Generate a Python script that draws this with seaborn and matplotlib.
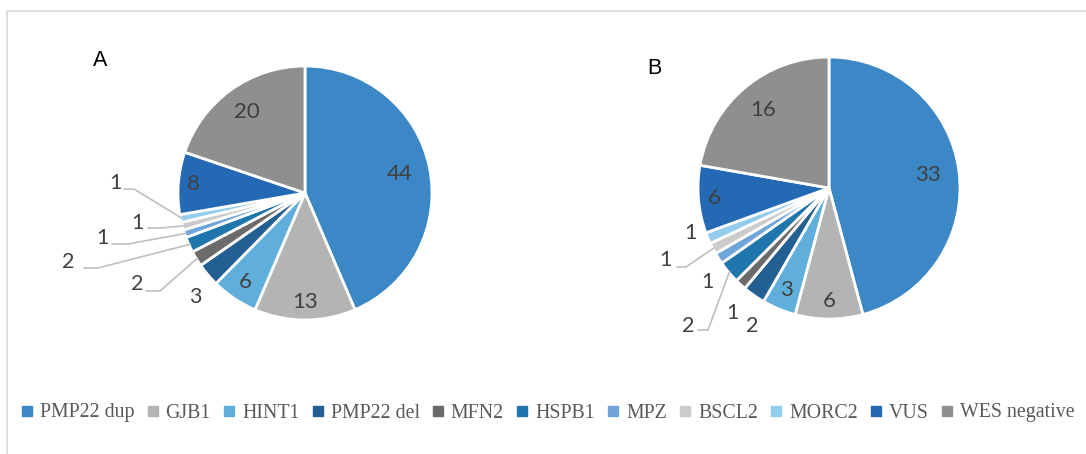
import matplotlib.pyplot as plt
import seaborn as sns
from matplotlib.lines import Line2D
import numpy as np

# categories et valeurs
genes = ['PMP22 dup', 'GJB1', 'HINT1', 'PMP22 del', 'MFN2', 'HSPB1',
         'MPZ', 'BSCL2', 'MORC2', 'VUS', 'WES negative']
valeurs_A = [44, 13, 6, 3, 2, 2, 1, 1, 1, 8, 20]
valeurs_B = [33, 6, 3, 2, 1, 2, 1, 1, 1, 6, 16]
couleurs = ['#3c87c6', '#b4b4b4', '#60aedc', '#245f93', '#6b6b6b', '#1f76ad',
            '#6fa5d9', '#cbcbcb', '#93cdee', '#2369b3', '#8f8f8f']

sns.set_style("white")
plt.rcParams['font.family'] = ['Lato', 'DejaVu Sans']

W, H = 1086, 454
fig = plt.figure(figsize=(W / 100, H / 100), dpi=100)
ax = fig.add_axes([0, 0, 1, 1])

def py(y):
    # coordonnees pixel (haut->bas) vers coordonnees axe
    return H - y

gris_txt = '#404040'

def dessiner_camembert(valeurs, centre, rayon, internes, externes):
    wedges, _ = ax.pie(valeurs, colors=couleurs, startangle=90, counterclock=False,
                       center=centre, radius=rayon,
                       wedgeprops=dict(edgecolor='white', linewidth=2))
    for i, w in enumerate(wedges):
        ang = np.deg2rad((w.theta1 + w.theta2) / 2)
        if i in internes:
            d = internes[i] * rayon
            ax.text(centre[0] + d * np.cos(ang), centre[1] + d * np.sin(ang),
                    str(valeurs[i]), ha='center', va='center', fontsize=16, color=gris_txt)
        elif i in externes:
            lx, ly, coude = externes[i]
            ax.text(lx, py(ly), str(valeurs[i]), ha='center', va='center',
                    fontsize=15.5, color=gris_txt)
            if coude is not None:
                bx = centre[0] + rayon * 0.99 * np.cos(ang)
                by = centre[1] + rayon * 0.99 * np.sin(ang)
                x0, x1, yl = coude
                ax.plot([x0, x1, bx], [py(yl), py(yl), by], color='#bfbfbf', lw=1.2)

# camembert A
dessiner_camembert(valeurs_A, (305, py(193)), 127,
                   {0: 0.76, 1: 0.86, 2: 0.84, 9: 0.88, 10: 0.78},
                   {3: (195, 297, None),
                    4: (137, 284, (146, 160, 291)),
                    5: (68, 262, (84, 98, 268)),
                    6: (102, 238, (112, 128, 244)),
                    7: (137, 223, (148, 160, 228)),
                    8: (115, 183, (124, 134, 189))})

# camembert B
dessiner_camembert(valeurs_B, (829, py(188)), 131,
                   {0: 0.76, 1: 0.86, 2: 0.84, 9: 0.88, 10: 0.78},
                   {3: (752, 326, None),
                    4: (732, 313, None),
                    5: (688, 326, (698, 708, 330)),
                    6: (707, 282, None),
                    7: (665, 260, (677, 686, 267)),
                    8: (690, 233, None)})

# pie() change les limites : on les remet apres
ax.set_xlim(0, W)
ax.set_ylim(0, H)
ax.set_aspect('equal')
ax.axis('off')

# cadre gris clair
ax.plot([7, 7, W], [0, py(11), py(11)], color='#d9d9d9', lw=1.2)

ax.text(100, py(60), 'A', ha='center', va='center', fontsize=15.5, color='black',
        family=['Liberation Sans', 'DejaVu Sans'])
ax.text(654, py(69), 'B', ha='center', va='center', fontsize=15.5, color='black',
        family=['Liberation Sans', 'DejaVu Sans'])

# legende
poignees = [Line2D([], [], marker='s', linestyle='none', markersize=6.5,
                   markerfacecolor=c, markeredgecolor=c) for c in couleurs]
fig.legend(poignees, genes, loc='center', bbox_to_anchor=(0.5045, 1 - 413 / H), ncol=11,
           frameon=False, handlelength=0.6, handletextpad=0.35, columnspacing=0.62,
           prop={'family': ['Liberation Serif', 'DejaVu Serif'], 'size': 14.3},
           labelcolor='#595959')

fig.savefig('out.png', dpi=100)
